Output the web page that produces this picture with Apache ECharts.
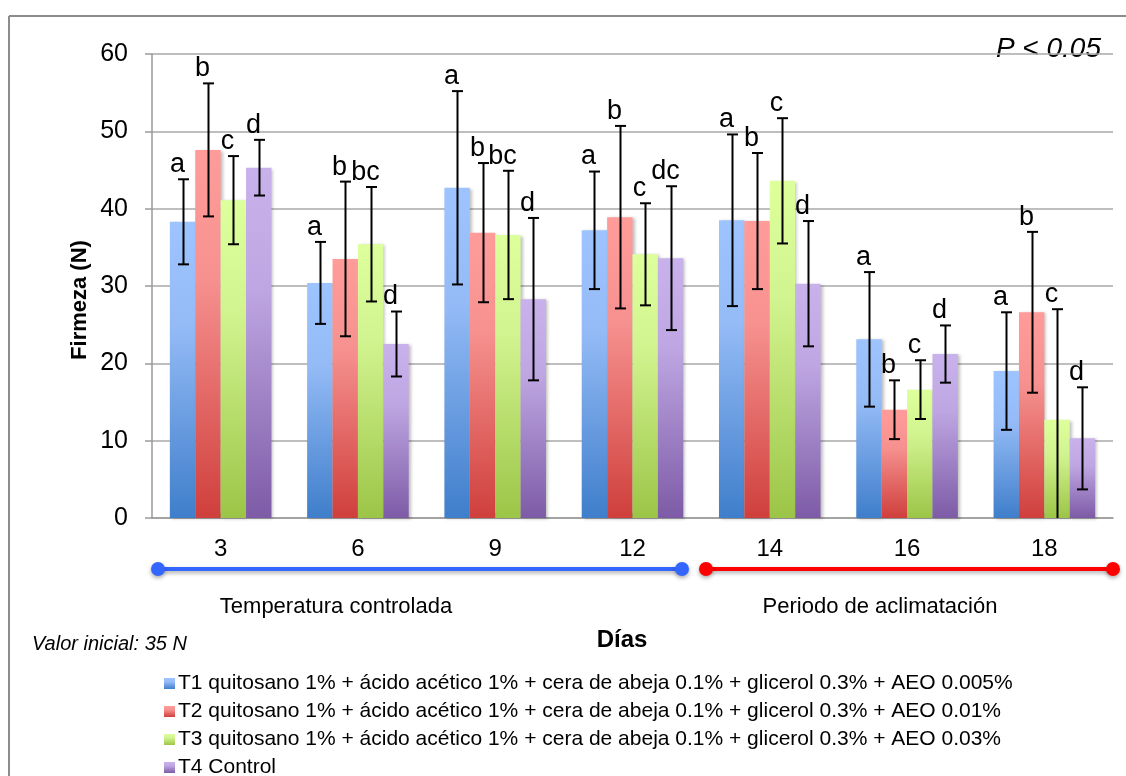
<!DOCTYPE html>
<html>
<head>
<meta charset="utf-8">
<script src="https://cdn.jsdelivr.net/npm/echarts@6/dist/echarts.min.js"></script>
<style>
  html, body { margin: 0; padding: 0; background: #fff; }
  #chart { width: 1126px; height: 776px; }
</style>
</head>
<body>
<div id="chart"></div>
<script>
// días de muestreo
const dias = ['3', '6', '9', '12', '14', '16', '18']

// firmeza media (N) por tratamiento
const t1 = [38.3, 30.4, 42.7, 37.2, 38.5, 23.1, 19.0]
const t2 = [47.6, 33.5, 36.9, 38.9, 38.4, 14.0, 26.6]
const t3 = [41.1, 35.4, 36.6, 34.1, 43.6, 16.6, 12.7]
const t4 = [45.3, 22.5, 28.3, 33.6, 30.3, 21.2, 10.3]

// desviación (barras de error)
const e1 = [5.5, 5.3, 12.5, 7.6, 11.1, 8.7, 7.6]
const e2 = [8.6, 10.0, 9.0, 11.8, 8.8, 3.8, 10.4]
const e3 = [5.7, 7.4, 8.3, 6.6, 8.1, 3.8, 14.3]
const e4 = [3.6, 4.2, 10.5, 9.3, 8.1, 3.7, 6.6]

// letras de significancia
const l1 = ['a', 'a', 'a', 'a', 'a', 'a', 'a']
const l2 = ['b', 'b', 'b', 'b', 'b', 'b', 'b']
const l3 = ['c', 'bc', 'bc', 'c', 'c', 'c', 'c']
const l4 = ['d', 'd', 'd', 'dc', 'd', 'd', 'd']

const yTicks = [0, 10, 20, 30, 40, 50, 60]

const nombres = [
  'T1 quitosano 1% + ácido acético 1% + cera de abeja 0.1% + glicerol 0.3% + AEO 0.005%',
  'T2 quitosano 1% + ácido acético 1% + cera de abeja 0.1% + glicerol 0.3% + AEO 0.01%',
  'T3 quitosano 1% + ácido acético 1% + cera de abeja 0.1% + glicerol 0.3% + AEO 0.03%',
  'T4 Control'
]
const valores = [t1, t2, t3, t4]
const errores = [e1, e2, e3, e4]
const letras = [l1, l2, l3, l4]
const colores = [
  ['#9dc4ff', '#94bbf6', '#3f7ecb'],
  ['#ff9c9a', '#f6918f', '#cf3f3c'],
  ['#ddff9c', '#d2f490', '#9cc547'],
  ['#c9b2ec', '#bea6e2', '#7d5ba6']
]
const FONT = '"Liberation Sans", Arial, Helvetica, sans-serif'

const chart = echarts.init(document.getElementById('chart'))

function gradiente (c) {
  return new echarts.graphic.LinearGradient(0, 0, 0, 1, [
    { offset: 0, color: c[0] },
    { offset: 0.35, color: c[1] },
    { offset: 1, color: c[2] }
  ])
}

const barCategoryGap = 0.26

const barras = valores.map((v, s) => ({
  name: nombres[s],
  type: 'bar',
  data: v,
  barGap: '0%',
  barCategoryGap: (barCategoryGap * 100) + '%',
  itemStyle: {
    color: gradiente(colores[s]),
    shadowBlur: 3,
    shadowColor: 'rgba(0,0,0,0.25)',
    shadowOffsetX: 2,
    shadowOffsetY: 1
  },
  emphasis: { disabled: true }
}))

const errData = []
valores.forEach((v, s) => {
  v.forEach((val, i) => {
    errData.push([i, s, val, errores[s][i]])
  })
})

function renderError (params, api) {
  const cat = api.value(0)
  const s = api.value(1)
  const val = api.value(2)
  const err = api.value(3)
  const center = api.coord([cat, 0])
  const catW = api.size([1, 0])[0]
  const bw = catW * (1 - barCategoryGap) / 4
  const x = Math.round(center[0] + (s - 1.5) * bw) + 0.5
  const hiY = api.coord([cat, val + err])[1]
  const lo = val - err
  const loY = api.coord([cat, Math.max(0, lo)])[1]
  const cap = 5.5
  const st = { stroke: '#000', lineWidth: 2 }
  const children = [
    { type: 'line', shape: { x1: x, y1: hiY, x2: x, y2: loY }, style: st },
    { type: 'line', shape: { x1: x - cap, y1: hiY, x2: x + cap, y2: hiY }, style: st }
  ]
  if (lo > 0) {
    children.push({ type: 'line', shape: { x1: x - cap, y1: loY, x2: x + cap, y2: loY }, style: st })
  }
  children.push({
    type: 'text',
    x: x - 6,
    y: hiY - 1,
    style: {
      text: letras[s][cat],
      fill: '#000',
      font: '27px ' + FONT,
      align: 'center',
      verticalAlign: 'bottom'
    }
  })
  return { type: 'group', children: children }
}

const txt = (text, x, y, font, extra) => ({
  type: 'text',
  x: x,
  y: y,
  style: Object.assign({ text: text, fill: '#000', font: font, align: 'center', verticalAlign: 'middle' }, extra || {})
})

const sombra = { shadowBlur: 4, shadowColor: 'rgba(0,0,0,0.35)', shadowOffsetY: 2 }
const linea = (x1, x2, y, color) => ({
  type: 'group',
  children: [
    { type: 'line', shape: { x1: x1, y1: y, x2: x2, y2: y }, style: Object.assign({ stroke: color, lineWidth: 4 }, sombra) },
    { type: 'circle', shape: { cx: x1, cy: y, r: 7 }, style: Object.assign({ fill: color }, sombra) },
    { type: 'circle', shape: { cx: x2, cy: y, r: 7 }, style: Object.assign({ fill: color }, sombra) }
  ]
})

chart.setOption({
  animation: false,
  textStyle: { fontFamily: FONT, color: '#000' },
  grid: { left: 152, right: 13, top: 54, bottom: 258 },
  legend: {
    data: nombres,
    orient: 'vertical',
    left: 159,
    top: 668,
    height: 140,
    itemWidth: 11,
    itemHeight: 11,
    itemGap: 7,
    icon: 'rect',
    selectedMode: false,
    textStyle: { fontSize: 21, lineHeight: 21, color: '#000', fontFamily: FONT, padding: [0, 0, 0, -2] }
  },
  xAxis: {
    type: 'category',
    data: dias,
    axisLine: { lineStyle: { color: '#9a9a9a', width: 1.5 } },
    axisTick: { show: true, inside: true, length: 5, alignWithLabel: true, lineStyle: { color: '#9a9a9a' } },
    axisLabel: { fontSize: 24, color: '#000', margin: 19 }
  },
  yAxis: {
    type: 'value',
    min: yTicks[0],
    max: yTicks[yTicks.length - 1],
    interval: 10,
    axisLine: { show: true, lineStyle: { color: '#9a9a9a', width: 1.5 } },
    axisTick: { show: true, length: 7, lineStyle: { color: '#9a9a9a', width: 1.5 } },
    axisLabel: { fontSize: 25, color: '#000', margin: 24 },
    splitLine: { lineStyle: { color: '#a8a8a8', width: 1.5 } }
  },
  series: barras.concat([{
    type: 'custom',
    renderItem: renderError,
    data: errData,
    encode: { x: 0, y: 2 },
    z: 5,
    clip: false,
    silent: true
  }]),
  graphic: [
    { type: 'line', shape: { x1: 9, y1: 16, x2: 9, y2: 776 }, style: { stroke: '#8c8c8c', lineWidth: 2 } },
    { type: 'line', shape: { x1: 9, y1: 16, x2: 1126, y2: 16 }, style: { stroke: '#8c8c8c', lineWidth: 2 } },
    txt('P < 0.05', 1101, 49, 'italic 28px ' + FONT, { align: 'right' }),
    linea(158, 682, 569, '#3366ff'),
    linea(706, 1113, 569, '#ff0000'),
    txt('Temperatura controlada', 336, 607, '22px ' + FONT),
    txt('Periodo de aclimatación', 880, 607, '22px ' + FONT),
    txt('Días', 622, 640, 'bold 24px ' + FONT),
    txt('Valor inicial: 35 N', 32, 644, 'italic 20px ' + FONT, { align: 'left' }),
    Object.assign(txt('Firmeza (N)', 80, 300, 'bold 22px ' + FONT), { rotation: Math.PI / 2 })
  ]
})
</script>
</body>
</html>
